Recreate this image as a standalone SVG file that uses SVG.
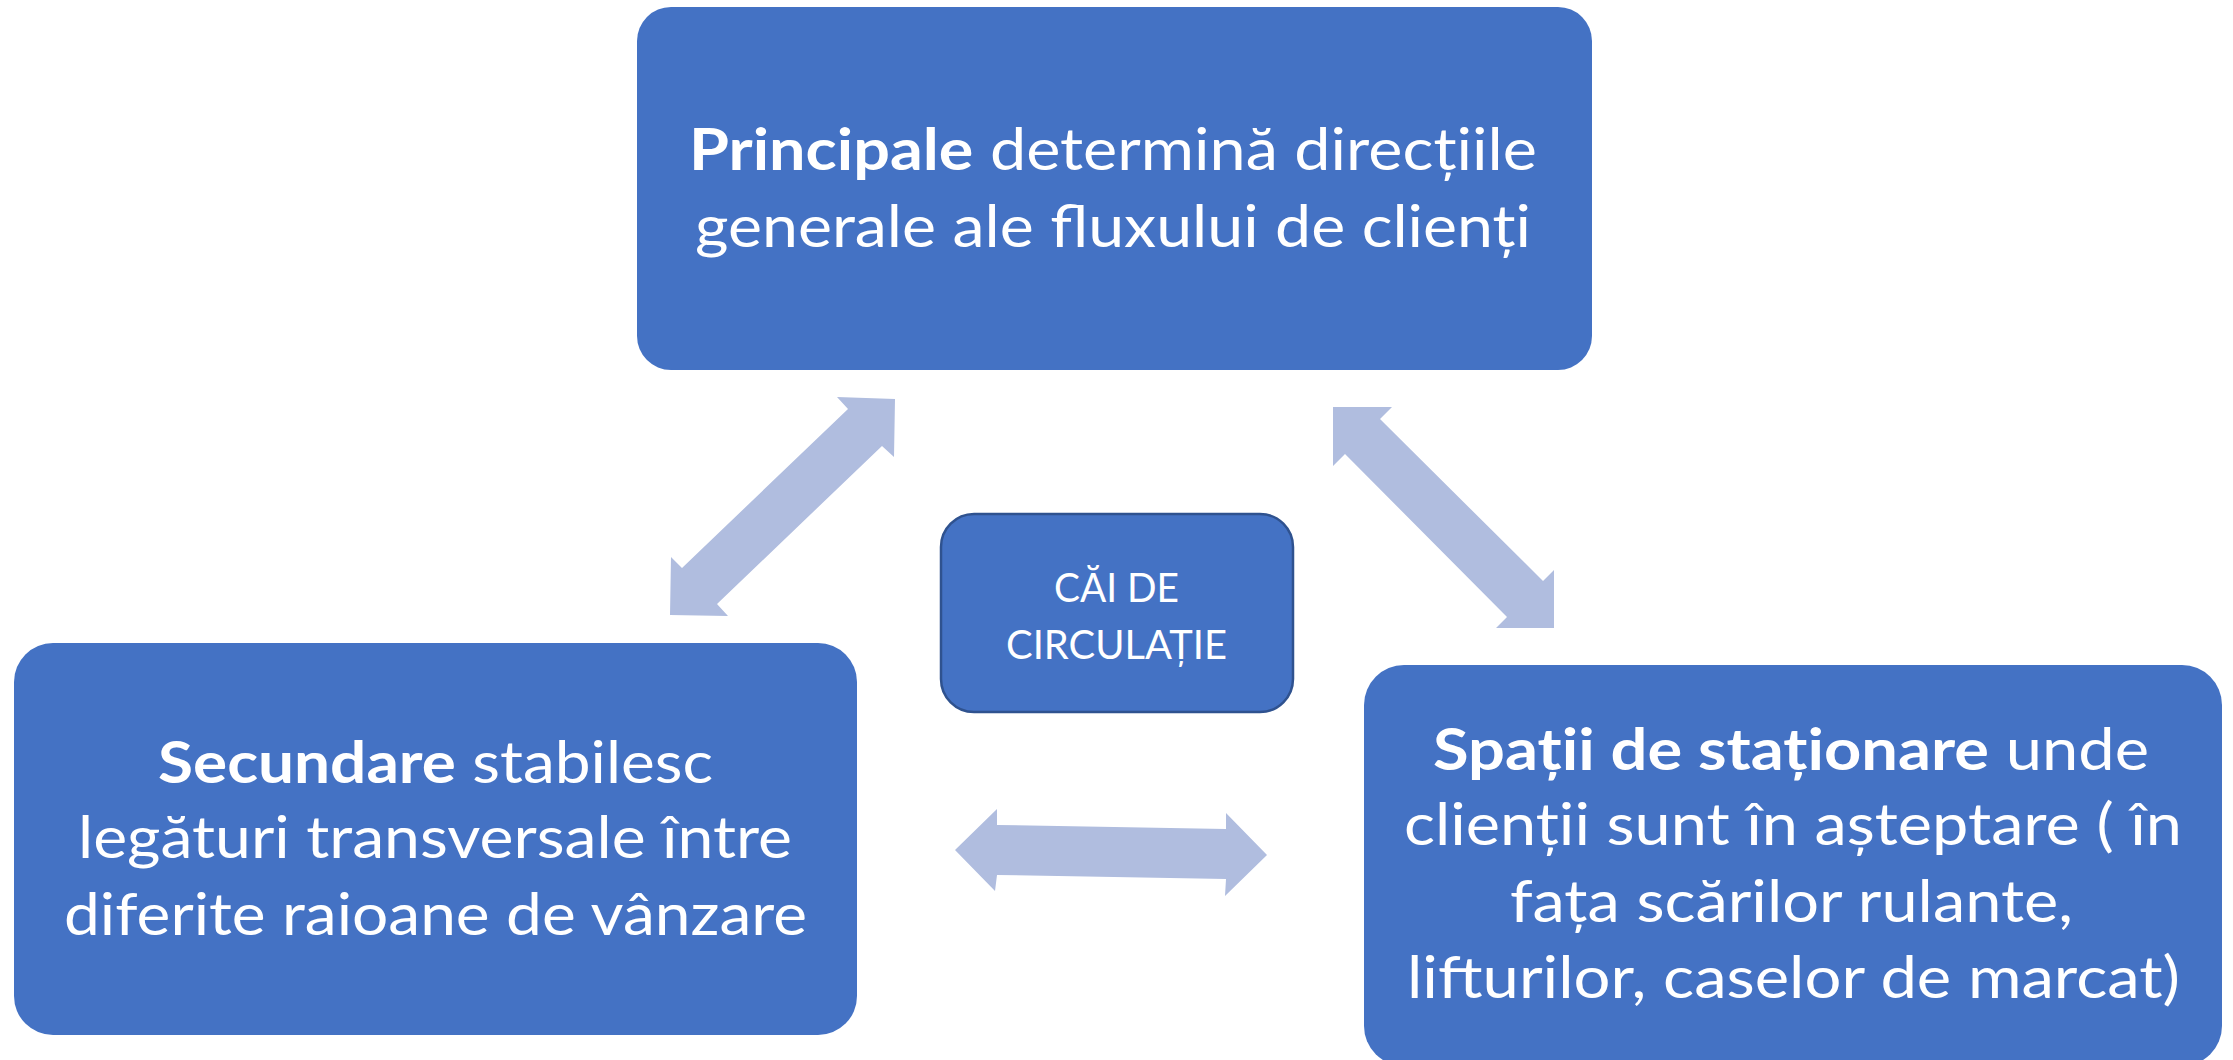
<svg xmlns="http://www.w3.org/2000/svg" width="2233" height="1060" viewBox="0 0 2233 1060">
<style>
.box{fill:#4472C4;}
.mid{fill:#4472C4;stroke:#2F528F;stroke-width:2.5;}
.arrow{fill:#B0BDDF;}
.t{font-family:Lato,"Open Sans","Liberation Sans",sans-serif;fill:#FFFFFF;font-size:58px;}
.tc{font-family:Lato,"Open Sans","Liberation Sans",sans-serif;fill:#FFFFFF;font-size:41px;}
.b{font-weight:bold;}
</style>
<rect width="2233" height="1060" fill="#FFFFFF"/>
<g id="connectors">
<polygon class="arrow" points="837,397 895,399 894,457 882,446 717,604 728,616 670,615 671,557 682,568 848,409"/>
<polygon class="arrow" points="1333,407 1392,407 1380,419 1543,581 1554,570 1554,628 1496,628 1507,617 1345,454 1333,466"/>
<polygon class="arrow" points="955,850 997,809 997,825 1226,829 1226,813 1267,855 1225,896 1226,879 997,875 995,891"/>
</g>
<g id="node-principale">
<rect class="box" x="637" y="7" width="955" height="363" rx="34" ry="34"/>
<text class="t" x="689" y="170" textLength="848" lengthAdjust="spacingAndGlyphs"><tspan class="b">Principale</tspan> determină direcțiile</text>
<text class="t" x="695" y="247" textLength="836" lengthAdjust="spacingAndGlyphs">generale ale fluxului de clienți</text>
</g>
<g id="node-secundare">
<rect class="box" x="14" y="643" width="843" height="392" rx="39" ry="39"/>
<text class="t" x="158" y="783" textLength="555" lengthAdjust="spacingAndGlyphs"><tspan class="b">Secundare</tspan> stabilesc</text>
<text class="t" x="78" y="858" textLength="714" lengthAdjust="spacingAndGlyphs">legături transversale între</text>
<text class="t" x="64" y="935" textLength="743" lengthAdjust="spacingAndGlyphs">diferite raioane de vânzare</text>
</g>
<g id="node-spatii">
<rect class="box" x="1364" y="665" width="858" height="401" rx="40" ry="40"/>
<text class="t" x="1433" y="770" textLength="716" lengthAdjust="spacingAndGlyphs"><tspan class="b">Spații de staționare</tspan> unde</text>
<text class="t" x="1404" y="845" textLength="778" lengthAdjust="spacingAndGlyphs">clienții sunt în așteptare ( în</text>
<text class="t" x="1510" y="922" textLength="563" lengthAdjust="spacingAndGlyphs">fața scărilor rulante,</text>
<text class="t" x="1407" y="998" textLength="773" lengthAdjust="spacingAndGlyphs">lifturilor, caselor de marcat)</text>
</g>
<g id="node-cai">
<rect class="mid" x="941" y="514" width="352" height="198" rx="33" ry="33"/>
<text class="tc" x="1054" y="602" textLength="125" lengthAdjust="spacingAndGlyphs">CĂI DE</text>
<text class="tc" x="1006" y="659" textLength="221" lengthAdjust="spacingAndGlyphs">CIRCULAȚIE</text>
</g>
</svg>
